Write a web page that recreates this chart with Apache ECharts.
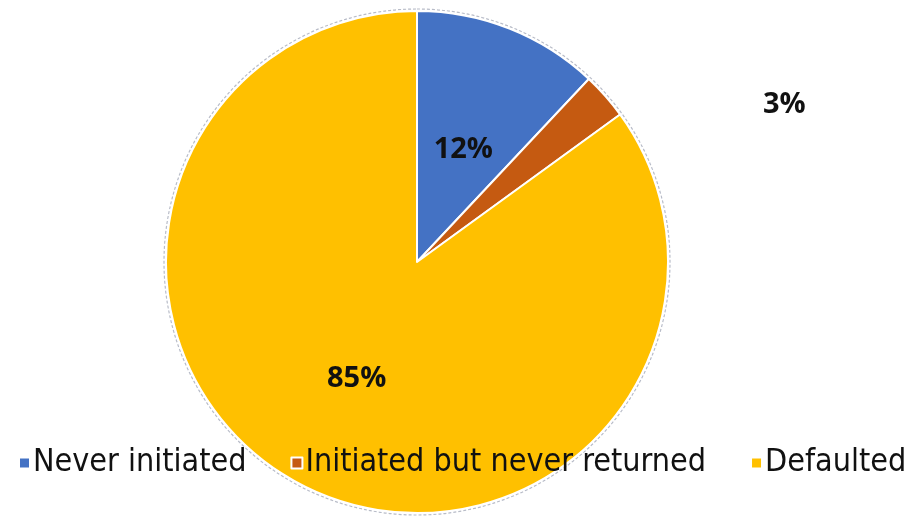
<!DOCTYPE html>
<html>
<head>
<meta charset="utf-8">
<script src="https://cdn.jsdelivr.net/npm/echarts@6/dist/echarts.min.js"></script>
<style>html,body{margin:0;padding:0;background:#fff}#c{width:918px;height:516px}</style>
</head>
<body>
<div id="c"></div>
<script>
const categories = ['Never initiated', 'Initiated but never returned', 'Defaulted'];
const values = [12, 3, 85];
const colors = ['#4472C4', '#C55A11', '#FFC000'];

const chart = echarts.init(document.getElementById('c'), null, {renderer: 'canvas'});
const labelFont = {fontFamily: 'Open Sans', fontWeight: 'bold', fontSize: 29, color: '#111'};
chart.setOption({
  animation: false,
  backgroundColor: '#fff',
  legend: {
    data: categories,
    left: 18, top: 447, width: 1000, padding: 0,
    itemWidth: 11, itemHeight: 11, itemGap: 44,
    icon: 'rect',
    textStyle: {fontFamily: 'Liberation Sans Narrow, DejaVu Sans Condensed, sans-serif', fontSize: 32, color: '#111', padding: [0,0,0,-2]}
  },
  series: [
    {
      type: 'pie', silent: true, z: 1,
      center: [417, 262], radius: 253,
      data: [{value: 1, name: '_outline'}],
      itemStyle: {color: 'rgba(0,0,0,0)', borderColor: '#b8bcc8', borderWidth: 1.2, borderType: [3, 2]},
      label: {show: false}, labelLine: {show: false}
    },
    {
      type: 'pie', z: 2,
      center: [417, 262], radius: 251,
      startAngle: 90, clockwise: true,
      data: categories.map((n, i) => ({
        name: n, value: values[i],
        itemStyle: {color: colors[i]},
        label: i === 1 ? {offset: [271, -72]} : (i === 0 ? {offset: [-1, 7]} : {offset: [-2, 2]})
      })),
      itemStyle: {borderColor: '#fff', borderWidth: 2},
      label: Object.assign({show: true, position: 'inside', formatter: '{c}%'}, labelFont),
      labelLine: {show: false}
    }
  ]
});
</script>
</body>
</html>
